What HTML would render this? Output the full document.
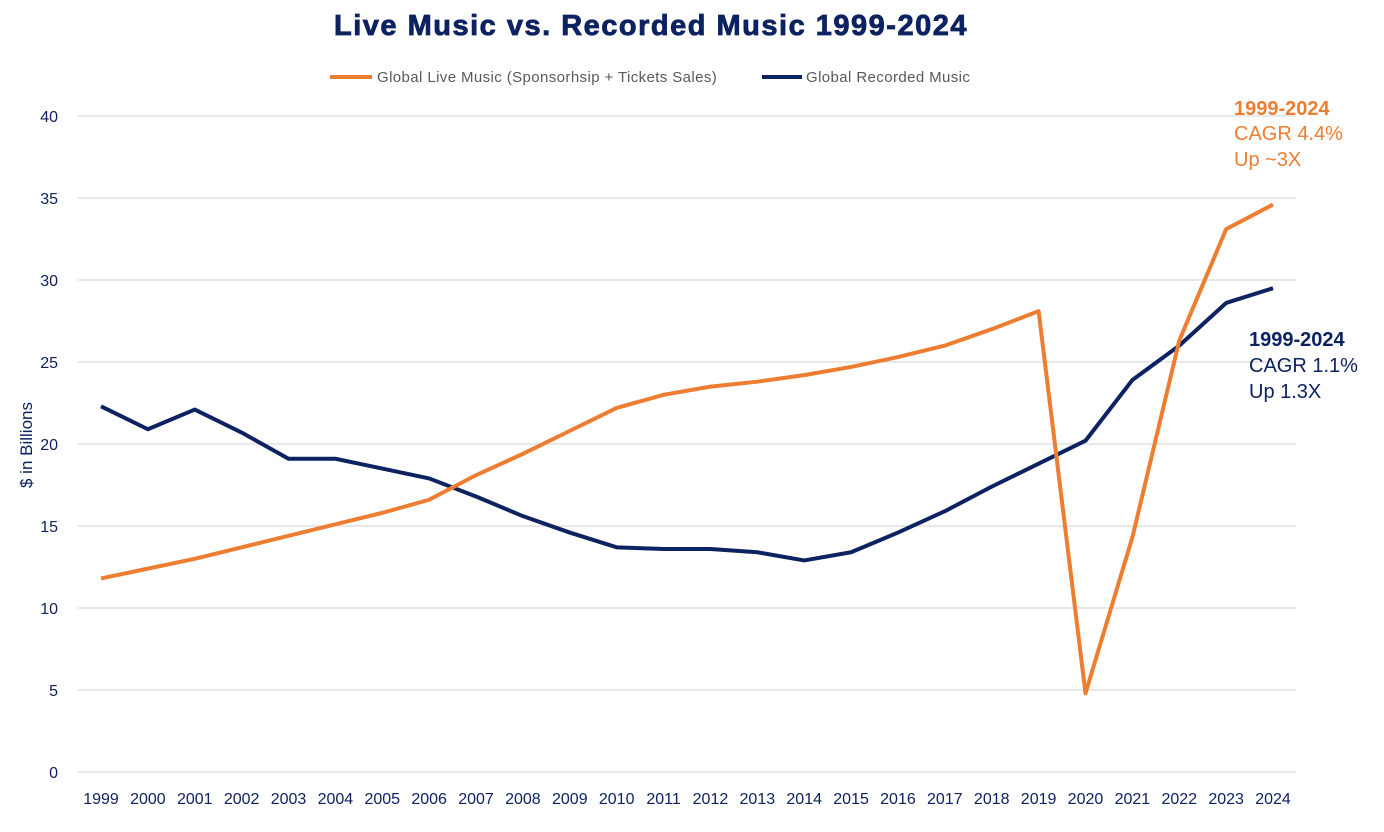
<!DOCTYPE html>
<html><head><meta charset="utf-8"><style>
body{margin:0;background:#fff;font-family:"Liberation Sans",Arial,sans-serif;}
svg{display:block}
</style></head><body>
<svg id="chart" width="1384" height="832">
<text x="651" y="35" text-anchor="middle" font-size="29" font-weight="bold" letter-spacing="1.5" fill="#0d2260" stroke="#0d2260" stroke-width="0.8">Live Music vs. Recorded Music 1999-2024</text>
<g>
<line x1="330" y1="77" x2="372" y2="77" stroke="#ed7d31" stroke-width="4"/>
<text x="377" y="82" font-size="15" letter-spacing="0.4" fill="#595959">Global Live Music (Sponsorhsip + Tickets Sales)</text>
<line x1="762" y1="77" x2="802" y2="77" stroke="#0d2260" stroke-width="4"/>
<text x="806" y="82" font-size="15" letter-spacing="0.4" fill="#595959">Global Recorded Music</text>
</g>
<text transform="translate(32,445) rotate(-90)" text-anchor="middle" font-size="17" fill="#0d2260">$ in Billions</text>
<g id="grid"></g><g id="ticks"></g><g id="series"></g>
<g font-size="20" fill="#ed7d31">
<text x="1234" y="115" font-weight="bold">1999-2024</text>
<text x="1234" y="140">CAGR 4.4%</text>
<text x="1234" y="166">Up ~3X</text>
</g>
<g font-size="20" fill="#0d2260">
<text x="1249" y="346" font-weight="bold">1999-2024</text>
<text x="1249" y="372">CAGR 1.1%</text>
<text x="1249" y="398">Up 1.3X</text>
</g>
</svg>
<script>
const years=[1999,2000,2001,2002,2003,2004,2005,2006,2007,2008,2009,2010,2011,2012,2013,2014,2015,2016,2017,2018,2019,2020,2021,2022,2023,2024];
const liveValues=[11.8,12.4,13.0,13.7,14.4,15.1,15.8,16.6,18.1,19.4,20.8,22.2,23.0,23.5,23.8,24.2,24.7,25.3,26.0,27.0,28.1,4.8,14.3,26.3,33.1,34.6];
const recordedValues=[22.3,20.9,22.1,20.7,19.1,19.1,18.5,17.9,16.8,15.6,14.6,13.7,13.6,13.6,13.4,12.9,13.4,14.6,15.9,17.4,18.8,20.2,23.9,26.0,28.6,29.5];
const yTicks=[0,5,10,15,20,25,30,35,40];
const NS="http://www.w3.org/2000/svg";
const xs=i=>101+i*(1273-101)/25;
const ys=v=>772-v*16.4;
function mk(tag,attrs,parent){const e=document.createElementNS(NS,tag);for(const k in attrs)e.setAttribute(k,attrs[k]);document.getElementById(parent).appendChild(e);return e;}
yTicks.forEach(t=>{
 const l=mk('line',{x1:78,x2:1296,y1:ys(t),y2:ys(t),stroke:'#d9d9d9','stroke-width':1.3},'grid');
 
 
 const tx=mk('text',{x:58,y:ys(t)+6,'text-anchor':'end','font-size':16,fill:'#0d2260'},'ticks');
 tx.textContent=t;
 
 
});
years.forEach((y,i)=>{
 const tx=mk('text',{x:xs(i),y:804,'text-anchor':'middle','font-size':16,fill:'#0d2260'},'ticks');
 tx.textContent=y;
 
 
});
function line(vals,color,name){
 const p=mk('polyline',{points:vals.map((v,i)=>xs(i)+','+ys(v)).join(' '),fill:'none',stroke:color,'stroke-width':4,'stroke-linejoin':'round'},'series');
 
 
}
line(recordedValues,'#0d2260','recorded-music-line');
line(liveValues,'#ed7d31','live-music-line');
</script>
</body></html>
